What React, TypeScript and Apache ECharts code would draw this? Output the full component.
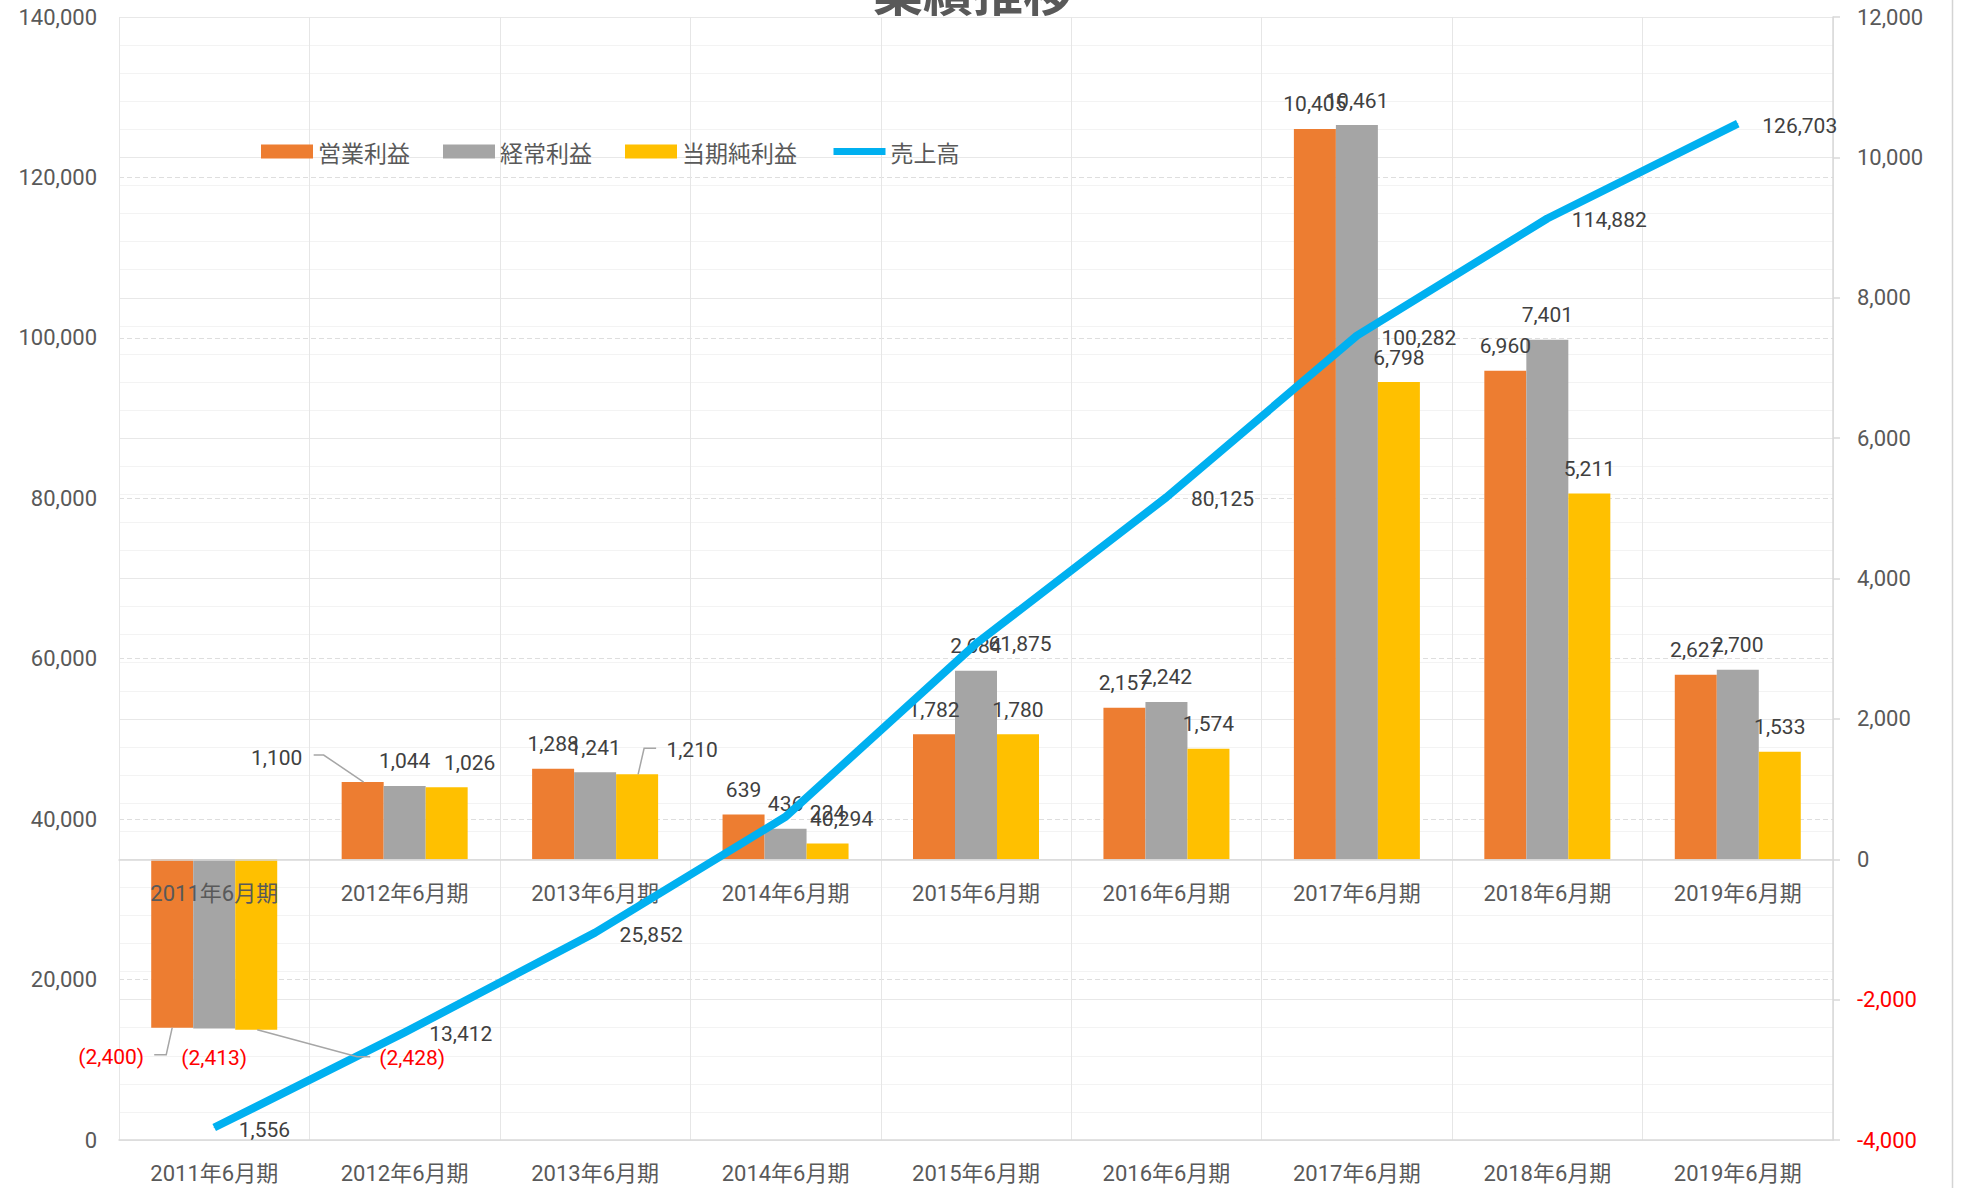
import React, { useEffect, useRef } from 'react';
import * as echarts from 'echarts';

// ---------- data ----------
const categories = [
  '2011年6月期', '2012年6月期', '2013年6月期', '2014年6月期', '2015年6月期',
  '2016年6月期', '2017年6月期', '2018年6月期', '2019年6月期',
];
const operatingProfit = [-2400, 1100, 1288, 639, 1782, 2157, 10405, 6960, 2627];
const ordinaryProfit = [-2413, 1044, 1241, 436, 2684, 2242, 10461, 7401, 2700];
const netIncome = [-2428, 1026, 1210, 224, 1780, 1574, 6798, 5211, 1533];
const sales = [1556, 13412, 25852, 40294, 61875, 80125, 100282, 114882, 126703];
const seriesNames = ['営業利益', '経常利益', '当期純利益', '売上高'];
const titleText = '業績推移';
const salesAxisMin = 0;
const salesAxisMax = 140000;
const salesAxisStep = 20000;
const profitAxisMin = -4000;
const profitAxisMax = 12000;
const profitAxisStep = 2000;

// ---------- styles ----------
const FONT = "Roboto, 'Noto Sans CJK JP', sans-serif";
const CJK_FONT = "'Noto Sans CJK JP', sans-serif";
const barColors = ['#ED7D31', '#A5A5A5', '#FFC000'];
const lineColor = '#00B0F0';
const axisTextColor = '#595959';
const labelColor = '#404040';
const negColor = '#FF0000';
const BAR_W = 42;
const LABEL_DIST = 14;
const CHART_W = 1967;
const CHART_H = 1188;
const GRID = { left: 119, right: 134, top: 17, bottom: 48 };
const PLOT_H = CHART_H - GRID.top - GRID.bottom;
// the category axis sits on the zero line of the profit (right) axis
const ZERO_AXIS_OFFSET = -(PLOT_H * (0 - profitAxisMin)) / (profitAxisMax - profitAxisMin);

// manual label nudges (series-index, category-index) -> pixel offset
const barLabelOffsets: Record<string, number[]> = {
  '0-0': [-61, 5],
  '1-0': [0, 5],
  '2-0': [156, 4],
  '0-1': [-86, 0],
  '2-1': [23, 0],
  '2-2': [55, 0],
  '2-3': [0, -6],
};
const lineLabelOffsets: Record<number, number[]> = { 4: [-12, 0] };

// leader lines, pixel offsets relative to the bar end
const leaders = [
  { s: 0, i: 0, pts: [[0, 0], [-6, 27], [-18, 27]] },
  { s: 2, i: 0, pts: [[1, 0], [101, 27], [114, 27]] },
  { s: 0, i: 1, pts: [[-49, -27], [-39, -27], [1, 0]] },
  { s: 2, i: 2, pts: [[1, 0], [7, -26], [19, -26]] },
];

const fmtNum = (v: number) =>
  v < 0 ? `(${Math.abs(v).toLocaleString('en-US')})` : v.toLocaleString('en-US');

export default function App() {
  const ref = useRef<HTMLDivElement>(null);

  useEffect(() => {
    document.body.style.margin = '0';
    if (!ref.current) return;
    const chart = echarts.init(ref.current, undefined, { renderer: 'svg' });
    const barSets = [operatingProfit, ordinaryProfit, netIncome];

    const baseGraphics: any[] = [
      {
        id: 'title',
        type: 'text',
        x: 973,
        y: -11,
        z: 10,
        style: {
          text: titleText,
          fontSize: 50,
          fontWeight: 'bold',
          fontFamily: CJK_FONT,
          fill: axisTextColor,
          align: 'center',
          verticalAlign: 'middle',
        },
      },
      {
        id: 'border',
        type: 'line',
        z: 10,
        shape: { x1: 1952.5, y1: 0, x2: 1952.5, y2: CHART_H },
        style: { stroke: '#d4d4d4', lineWidth: 1.5 },
      },
    ];

    const barSeries = barSets.map((arr, s) => ({
      name: seriesNames[s],
      type: 'bar',
      xAxisIndex: 0,
      yAxisIndex: 1,
      barWidth: BAR_W,
      barGap: '0%',
      z: 2,
      itemStyle: { color: barColors[s] },
      label: {
        show: true,
        fontSize: 21,
        fontFamily: FONT,
        color: labelColor,
        distance: LABEL_DIST,
        formatter: (p: any) => fmtNum(p.value),
      },
      data: arr.map((v, i) => ({
        value: v,
        label: {
          position: v < 0 ? 'bottom' : 'top',
          color: v < 0 ? negColor : labelColor,
          offset: barLabelOffsets[`${s}-${i}`] || [0, 0],
        },
      })),
    }));

    const option: any = {
      animation: false,
      grid: [{ ...GRID }, { ...GRID }],
      legend: {
        left: 256,
        top: 135,
        itemWidth: 52,
        itemHeight: 14,
        itemGap: 33,
        textStyle: { fontSize: 23, fontFamily: CJK_FONT, color: axisTextColor },
        data: [
          { name: seriesNames[0], icon: 'rect' },
          { name: seriesNames[1], icon: 'rect' },
          { name: seriesNames[2], icon: 'rect' },
          { name: seriesNames[3], itemStyle: { opacity: 0 }, lineStyle: { width: 7, color: lineColor } },
        ],
      },
      xAxis: [
        {
          type: 'category',
          gridIndex: 0,
          data: categories,
          position: 'bottom',
          offset: ZERO_AXIS_OFFSET,
          z: 3,
          axisLine: { onZero: false, lineStyle: { color: '#d9d9d9', width: 1.5 } },
          axisTick: { show: false },
          axisLabel: { interval: 0, margin: 23, fontSize: 22, fontFamily: FONT, color: axisTextColor },
          splitLine: { show: false },
        },
        {
          type: 'category',
          gridIndex: 1,
          data: categories,
          position: 'bottom',
          axisLine: { onZero: false, lineStyle: { color: '#d9d9d9', width: 1.5 } },
          axisTick: { show: false },
          axisLabel: { interval: 0, margin: 22, fontSize: 22, fontFamily: FONT, color: axisTextColor },
          splitLine: { show: true, interval: 0, lineStyle: { color: '#e6e6e6', width: 1 } },
        },
      ],
      yAxis: [
        {
          type: 'value',
          gridIndex: 0,
          position: 'left',
          min: salesAxisMin,
          max: salesAxisMax,
          interval: salesAxisStep,
          axisLine: { show: false },
          axisTick: { show: false },
          axisLabel: {
            margin: 22,
            fontSize: 22,
            fontFamily: FONT,
            color: axisTextColor,
            formatter: (v: number) => v.toLocaleString('en-US'),
          },
          splitLine: { show: true, lineStyle: { color: '#dedede', type: [5, 3], width: 1 } },
        },
        {
          type: 'value',
          gridIndex: 0,
          position: 'right',
          min: profitAxisMin,
          max: profitAxisMax,
          interval: profitAxisStep,
          axisLine: { show: true, onZero: false, lineStyle: { color: '#d9d9d9', width: 1.5 } },
          axisTick: { show: true, length: 7, lineStyle: { color: '#d9d9d9', width: 1.5 } },
          minorTick: { show: false, splitNumber: 5 },
          minorSplitLine: { show: true, lineStyle: { color: '#f3f3f3', width: 1 } },
          axisLabel: {
            margin: 24,
            fontSize: 22,
            fontFamily: FONT,
            color: axisTextColor,
            formatter: (v: number) =>
              v < 0 ? `{neg|${v.toLocaleString('en-US')}}` : v.toLocaleString('en-US'),
            rich: { neg: { color: negColor, fontSize: 22, fontFamily: FONT } },
          },
          splitLine: { show: true, lineStyle: { color: '#e8e8e8', width: 1 } },
        },
        {
          type: 'value',
          gridIndex: 1,
          min: 0,
          max: 1,
          show: false,
          splitLine: { show: false },
        },
      ],
      series: [
        ...barSeries,
        {
          name: seriesNames[3],
          type: 'line',
          xAxisIndex: 0,
          yAxisIndex: 0,
          z: 4,
          symbol: 'circle',
          symbolSize: 1,
          itemStyle: { color: lineColor },
          lineStyle: { color: lineColor, width: 8, cap: 'butt', join: 'round' },
          label: {
            show: true,
            position: 'right',
            distance: 24,
            fontSize: 21,
            fontFamily: FONT,
            color: labelColor,
            formatter: (p: any) => fmtNum(p.value),
          },
          data: sales.map((v, i) => ({
            value: v,
            label: { offset: lineLabelOffsets[i] || [0, 2] },
          })),
        },
      ],
      graphic: { elements: baseGraphics },
    };

    chart.setOption(option);

    const leaderGraphics = leaders.map((l, k) => {
      const p = chart.convertToPixel({ xAxisIndex: 0, yAxisIndex: 1 } as any, [l.i, barSets[l.s][l.i]]) as number[];
      const cx = p[0] + (l.s - 1) * BAR_W;
      return {
        id: `leader${k}`,
        type: 'polyline',
        z: 5,
        shape: { points: l.pts.map(([dx, dy]) => [cx + dx, p[1] + dy]) },
        style: { stroke: '#A6A6A6', lineWidth: 1.5, fill: null },
      };
    });
    chart.setOption({ graphic: { elements: [...baseGraphics, ...leaderGraphics] } });

    return () => chart.dispose();
  }, []);

  return (
    <div
      ref={ref}
      style={{ position: 'absolute', left: 0, top: 0, width: CHART_W, height: CHART_H, background: '#fff' }}
    />
  );
}
